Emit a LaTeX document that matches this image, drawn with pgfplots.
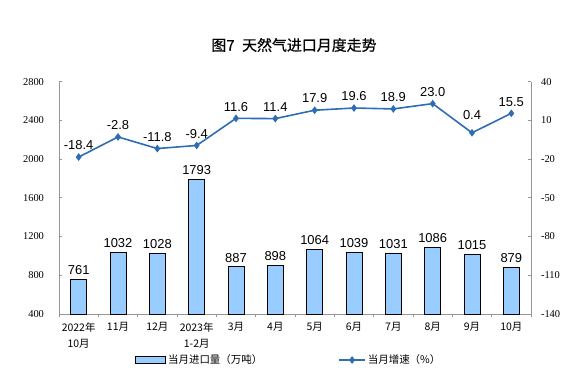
\documentclass[border=0pt]{standalone}
\usepackage{pgfplots}
\pgfplotsset{compat=1.18}
\usepackage{fontspec}
\setmainfont{Liberation Serif}
\newfontfamily\cjk{Noto Sans CJK SC}
\newfontfamily\cjkt[FakeBold=0.6]{Noto Sans CJK SC}
\newfontfamily\arial{Liberation Sans}
\definecolor{barfill}{RGB}{153,204,255}
\definecolor{linec}{RGB}{46,109,180}
\definecolor{axgray}{RGB}{150,150,150}
\pgfplotsset{/pgf/number format/assume math mode=true, /pgf/number format/1000 sep={}}

\pgfplotstableread{
x y
0 761
1 1032
2 1028
3 1793
4 887
5 898
6 1064
7 1039
8 1031
9 1086
10 1015
11 879
}\bardata

\pgfplotstableread{
x y s
0 -18.4 3
1 -2.8 3
2 -11.8 3
3 -9.4 3
4 11.6 3
5 11.4 3
6 17.9 3
7 19.6 3
8 18.9 3
9 23.0 3
10 0.4 9
11 15.5 3
}\linedata

\begin{document}
\begin{tikzpicture}
\useasboundingbox (0bp,0bp) rectangle (582bp,376bp);
\begin{axis}[
  at={(59bp,62bp)}, anchor=south west, scale only axis,
  width=472bp, height=232.3bp,
  xmin=-0.5, xmax=11.5, ymin=400, ymax=2800,
  ytick={400,800,...,2800},
  axis x line*=bottom, axis y line*=left,
  axis line style={-, draw=axgray, line width=0.8bp},
  every tick/.style={draw=axgray, line width=0.8bp},
  major tick length=3bp, minor tick length=3bp,
  xtick={0,...,11},
  xticklabels={{2022年\\10月},11月,12月,{2023年\\1-2月},3月,4月,5月,6月,7月,8月,9月,10月},
  major x tick style={draw=none},
  minor xtick={-0.5,0.5,...,11.5},
  xticklabel style={font=\cjk\fontsize{10.5}{16}\selectfont, align=center, yshift=-2bp},
  yticklabel style={font=\fontsize{10.5}{10.5}\selectfont, xshift=-11.5bp},
  ybar, bar width=16bp,
]
\addplot[fill=barfill, draw=black, line width=0.8bp,
  nodes near coords,
  every node near coord/.append style={font=\arial\fontsize{13}{13}\selectfont, text=black, yshift=1bp}]
  table[x=x,y=y] {\bardata};
\end{axis}
\begin{axis}[
  at={(59bp,62bp)}, anchor=south west, scale only axis,
  width=472bp, height=232.3bp,
  xmin=-0.5, xmax=11.5, ymin=-140, ymax=40,
  ytick={-140,-110,...,40},
  axis y line*=right, axis x line=none,
  axis line style={-, draw=axgray, line width=0.8bp},
  every tick/.style={draw=axgray, line width=0.8bp},
  major tick length=3bp,
  yticklabel style={font=\fontsize{10.5}{10.5}\selectfont, xshift=6.5bp},
  legend columns=2,
  legend cell align=left,
  legend style={at={(0.155,-0.198)}, anchor=west, draw=none, fill=none,
    font=\cjk\fontsize{10.5}{10.5}\selectfont,
    /tikz/every even column/.append style={column sep=74bp}},
]
\addlegendimage{legend image code/.code={\draw[fill=barfill,draw=black,line width=0.8bp] (0bp,-3.5bp) rectangle (30bp,3.5bp);}}
\addlegendentry{当月进口量（万吨）}
\addplot[color=linec, line width=1.6bp, mark=diamond*, mark size=2.6bp, mark options={fill=linec},
  legend image code/.code={\draw[mark repeat=2,mark phase=2] plot coordinates {(0bp,0bp) (13bp,0bp) (26bp,0bp)};},
  nodes near coords,
  visualization depends on={\thisrow{s} \as \labshift},
  every node near coord/.append style={font=\arial\fontsize{13}{13}\selectfont, text=black, anchor=south, yshift=\labshift bp,
    /pgf/number format/fixed, /pgf/number format/fixed zerofill, /pgf/number format/precision=1}]
  table[x=x,y=y] {\linedata};
\addlegendentry{当月增速（\%）}
\end{axis}
\node[font=\cjkt\fontsize{15}{15}\selectfont] at (294bp,331bp) {图7\hspace{0.5em}天然气进口月度走势};
\end{tikzpicture}
\end{document}
